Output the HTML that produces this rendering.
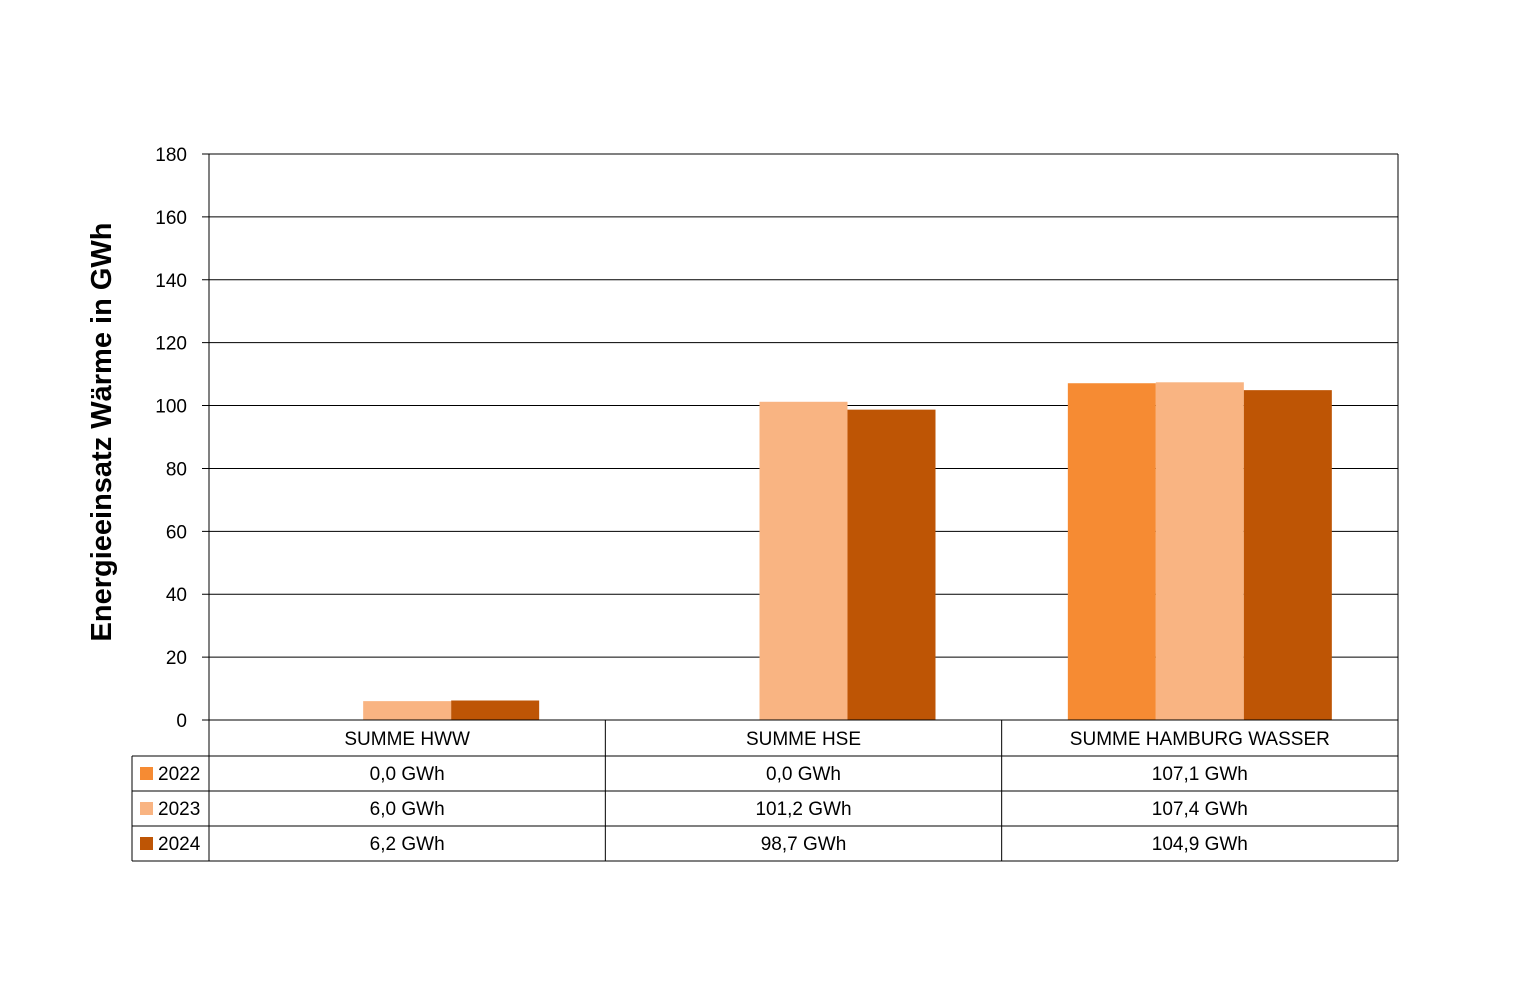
<!DOCTYPE html>
<html><head><meta charset="utf-8"><style>
body{margin:0;background:#fff}
svg{display:block;font-family:"Liberation Sans",Calibri,sans-serif}
</style></head><body>
<svg id="chart" width="1526" height="986" viewBox="0 0 1526 986" xmlns="http://www.w3.org/2000/svg">
<rect width="1526" height="986" fill="#fff"/>
<g id="grid"></g><g id="bars"></g><g id="axes"></g><g id="table"></g>
<text transform="translate(111,432) rotate(-90)" text-anchor="middle" font-size="29" font-weight="bold" fill="#000">Energieeinsatz Wärme in GWh</text>
</svg>
<script>
const categories=["SUMME HWW","SUMME HSE","SUMME HAMBURG WASSER"];
const seriesNames=["2022","2023","2024"];
const v2022=[0,0,107.1];
const v2023=[6.0,101.2,107.4];
const v2024=[6.2,98.7,104.9];
const yTicks=[0,20,40,60,80,100,120,140,160,180];
const colors=["#F68B33","#F9B482","#BE5505"];
const series=[v2022,v2023,v2024];
const NS="http://www.w3.org/2000/svg";
const L=209,R=1398,T=154,B=720,ymax=180;
const cw=(R-L)/categories.length, bw=88;
const y=v=>B-(v/ymax)*(B-T);
function mk(tag,attrs,parent,txt){const e=document.createElementNS(NS,tag);for(const k in attrs)e.setAttribute(k,attrs[k]);if(txt!==undefined)e.textContent=txt;document.getElementById(parent).appendChild(e);return e;}
yTicks.forEach(t=>{
 const g=mk("line",{x1:L-7,x2:R,y1:y(t),y2:y(t),stroke:"#000","stroke-width":1},"grid");
 
 
 const tx=mk("text",{x:187,y:y(t)+7,"text-anchor":"end","font-size":19,fill:"#000"},"axes",String(t));
 
 
});
mk("line",{x1:L,x2:L,y1:T,y2:B,stroke:"#000"},"axes");
mk("line",{x1:R,x2:R,y1:T,y2:B,stroke:"#000"},"axes");
categories.forEach((c,i)=>{
 const cx=L+cw*(i+0.5);
 series.forEach((s,j)=>{
  if(s[i]<=0)return;
  const x=cx-1.5*bw+j*bw;
  const r=mk("rect",{x:x,y:y(s[i]),width:bw,height:B-y(s[i]),fill:colors[j]},"bars");
  
  
 });
});
// table
const rowY=[720,756,791,826,861];
const ln=(x1,y1,x2,y2)=>mk("line",{x1,y1,x2,y2,stroke:"#000","stroke-width":1},"table");
for(let i=0;i<=categories.length;i++)ln(L+cw*i,720,L+cw*i,861);
ln(132,756,132,861);
ln(L,720,R,720);
for(let r=1;r<rowY.length;r++)ln(132,rowY[r],R,rowY[r]);
categories.forEach((c,i)=>{
 const t=mk("text",{x:L+cw*(i+0.5),y:745,"text-anchor":"middle","font-size":19,fill:"#000"},"table",c);
 
 
});
series.forEach((s,j)=>{
 const yy=rowY[j+1];
 const sw=mk("rect",{x:140,y:yy+11,width:13,height:13,fill:colors[j]},"table");
 
 
 const lt=mk("text",{x:158,y:yy+24,"font-size":19,fill:"#000"},"table",seriesNames[j]);
 
 
 s.forEach((v,i)=>{
  const t=mk("text",{x:L+cw*(i+0.5),y:yy+24,"text-anchor":"middle","font-size":19,fill:"#000"},"table",v.toFixed(1).replace('.',',')+" GWh");
  
  
 });
});
</script>
</body></html>
